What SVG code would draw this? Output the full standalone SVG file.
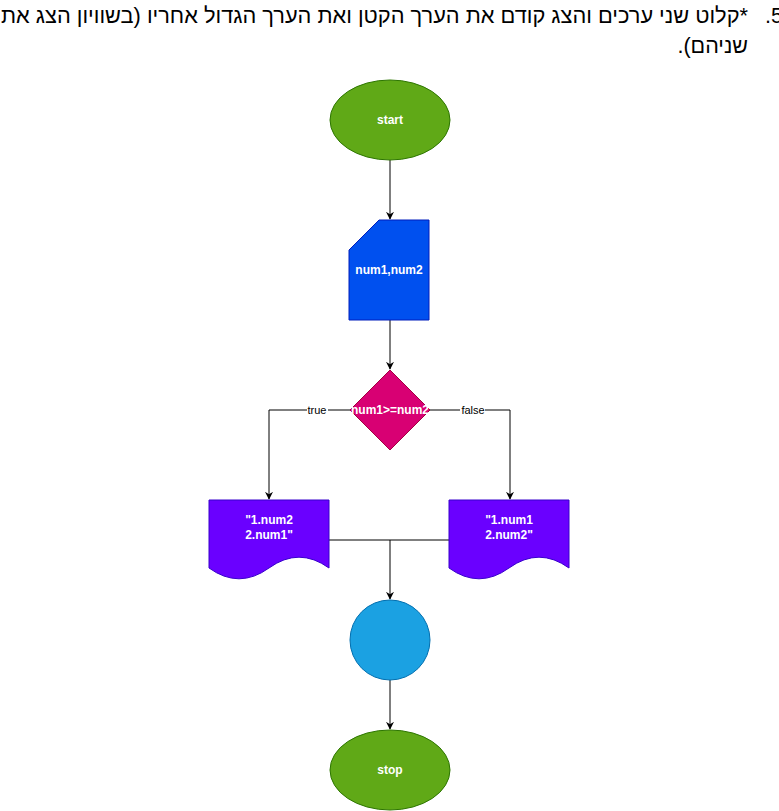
<svg xmlns="http://www.w3.org/2000/svg" width="779" height="811" viewBox="0 0 779 811">
<defs>
<marker id="arr" viewBox="0 0 10 10" refX="9" refY="5" markerWidth="8" markerHeight="8" markerUnits="userSpaceOnUse" orient="auto">
<path d="M0,0 L10,5 L0,10 L3,5 z" fill="#000"/>
</marker>
<style>
.hdr{font-family:"Liberation Sans","Noto Sans",sans-serif;font-size:21.5px;fill:#000}
.nt{font-family:"Liberation Sans",Arial,sans-serif;font-size:12px;font-weight:bold;fill:#fff;text-anchor:middle;dominant-baseline:central}
.lbl{font-family:"Liberation Sans",Arial,sans-serif;font-size:11px;fill:#000;text-anchor:middle;dominant-baseline:central}
.edge{fill:none;stroke:#000;stroke-width:1}
.green{fill:#60a917;stroke:#2d7600}
.blue{fill:#0050ef;stroke:#001dbc}
.pink{fill:#d80073;stroke:#a50040}
.purple{fill:#6a00ff;stroke:#3700cc}
.cyan{fill:#1ba1e2;stroke:#006eaf}
</style>
</defs>
<rect width="779" height="811" fill="#fff"/>
<g id="header">
<text class="hdr" x="783" y="23" direction="rtl" unicode-bidi="embed" text-anchor="start">5.</text>
<text class="hdr" x="748" y="23" direction="rtl" unicode-bidi="embed" text-anchor="start" textLength="747" lengthAdjust="spacingAndGlyphs">*קלוט שני ערכים והצג קודם את הערך הקטן ואת הערך הגדול אחריו (בשוויון הצג את</text>
<text class="hdr" x="748" y="53" direction="rtl" unicode-bidi="embed" text-anchor="start">שניהם).</text>
</g>
<g id="connectors">
<path class="edge" d="M390,160 L390,219" marker-end="url(#arr)"/>
<path class="edge" d="M390,320 L390,369" marker-end="url(#arr)"/>
<path class="edge" d="M350,410 L269,410 L269,499" marker-end="url(#arr)"/>
<path class="edge" d="M430,410 L510,410 L510,499" marker-end="url(#arr)"/>
<path class="edge" d="M329,540 L449,540"/>
<path class="edge" d="M390,540 L390,599" marker-end="url(#arr)"/>
<path class="edge" d="M390,680 L390,729" marker-end="url(#arr)"/>
<rect x="307" y="404" width="21" height="12" fill="#fff"/>
<text class="lbl" x="317" y="410">true</text>
<rect x="460" y="404" width="25" height="12" fill="#fff"/>
<text class="lbl" x="473" y="410">false</text>
</g>
<g id="start">
<ellipse class="green" cx="390" cy="120" rx="60" ry="40"/>
<text class="nt" x="390" y="120">start</text>
</g>
<g id="input">
<path class="blue" d="M379,220 L429,220 L429,320 L349,320 L349,250 Z"/>
<text class="nt" x="389" y="270">num1,num2</text>
</g>
<g id="decision">
<path class="pink" d="M390,370 L430,410 L390,450 L350,410 Z"/>
<text class="nt" x="390" y="410">num1&gt;=num2</text>
</g>
<g id="outTrue">
<path class="purple" d="M209,500 L329,500 L329,568 Q299,546.4 269,568 Q239,589.6 209,568 Z"/>
<text class="nt" x="269" y="520">"1.num2</text>
<text class="nt" x="269" y="535">2.num1"</text>
</g>
<g id="outFalse">
<path class="purple" d="M449,500 L569,500 L569,568 Q539,546.4 509,568 Q479,589.6 449,568 Z"/>
<text class="nt" x="509" y="520">"1.num1</text>
<text class="nt" x="509" y="535">2.num2"</text>
</g>
<g id="join">
<circle class="cyan" cx="390" cy="640" r="40"/>
</g>
<g id="stop">
<ellipse class="green" cx="390" cy="770" rx="60" ry="40"/>
<text class="nt" x="390" y="770">stop</text>
</g>
</svg>
